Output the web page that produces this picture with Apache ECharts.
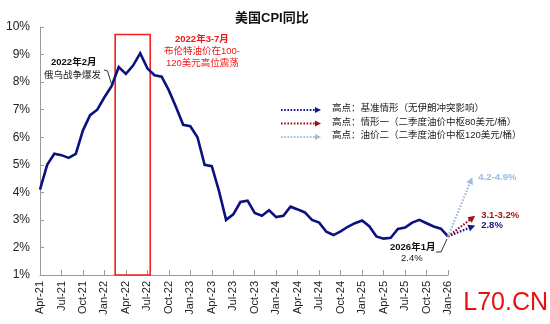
<!DOCTYPE html>
<html>
<head>
<meta charset="utf-8">
<script src="https://cdn.jsdelivr.net/npm/echarts@6/dist/echarts.min.js"></script>
<style>
  html, body { margin: 0; padding: 0; background: #fff; }
  #chart { width: 550px; height: 324px; }
</style>
</head>
<body>
<div id="chart"></div>
<script>
// Monthly labels, Apr-21 .. Jan-26
const months = [
  'Apr-21','May-21','Jun-21','Jul-21','Aug-21','Sep-21','Oct-21','Nov-21','Dec-21',
  'Jan-22','Feb-22','Mar-22','Apr-22','May-22','Jun-22','Jul-22','Aug-22','Sep-22','Oct-22','Nov-22','Dec-22',
  'Jan-23','Feb-23','Mar-23','Apr-23','May-23','Jun-23','Jul-23','Aug-23','Sep-23','Oct-23','Nov-23','Dec-23',
  'Jan-24','Feb-24','Mar-24','Apr-24','May-24','Jun-24','Jul-24','Aug-24','Sep-24','Oct-24','Nov-24','Dec-24',
  'Jan-25','Feb-25','Mar-25','Apr-25','May-25','Jun-25','Jul-25','Aug-25','Sep-25','Oct-25','Nov-25','Dec-25',
  'Jan-26'
];

// US CPI year-over-year, %
const cpi = [
  4.1, 5.0, 5.4, 5.35, 5.25, 5.4, 6.25, 6.8, 7.0,
  7.45, 7.85, 8.55, 8.3, 8.6, 9.05, 8.5, 8.25, 8.2, 7.7, 7.1, 6.45,
  6.4, 6.0, 5.0, 4.95, 4.05, 3.0, 3.2, 3.65, 3.7, 3.25, 3.15, 3.35,
  3.1, 3.15, 3.48, 3.38, 3.27, 3.0, 2.9, 2.57, 2.45, 2.58, 2.75, 2.88,
  2.98, 2.77, 2.4, 2.32, 2.35, 2.67, 2.72, 2.9, 3.0, 2.88, 2.76, 2.68,
  2.4
];

// Scenario peaks after Jan-26 (month index of the peak, peak value)
const scenarioNames = ['高点：基准情形（无伊朗冲突影响）', '高点：情形一（二季度油价中枢80美元/桶）', '高点：油价二（二季度油价中枢120美元/桶）'];
const scenarioLabels = ['2.8%', '3.1-3.2%', '4.2-4.9%'];
const scenarioPeakMonth = [60.8, 60.8, 60.4];
const scenarioPeak = [2.8, 3.15, 4.55];
const scenarioColors = ['#15168a', '#9b1010', '#9cbbe2'];

// Brent 100-120 window, Mar-22 .. Jul-22
const brentWindow = [10.5, 15.4];

const lastIdx = cpi.length - 1;
const FONT = '"Liberation Sans", Arial, "Noto Sans CJK SC", sans-serif';
const NOTE = '9.5px ' + FONT;
const NOTE_B = 'bold 9.5px ' + FONT;

const chart = echarts.init(document.getElementById('chart'), null, { renderer: 'canvas' });

function arrowShapes(p0, p1, color, headLen, headW, lineWidth) {
  const dx = p1[0] - p0[0], dy = p1[1] - p0[1];
  const len = Math.sqrt(dx * dx + dy * dy);
  const ux = dx / len, uy = dy / len;
  const bx = p1[0] - ux * headLen, by = p1[1] - uy * headLen;
  const nx = -uy, ny = ux;
  return [
    {
      type: 'line',
      shape: { x1: p0[0], y1: p0[1], x2: bx, y2: by },
      style: { stroke: color, lineWidth: lineWidth, lineDash: [1.6, 1.6] }
    },
    {
      type: 'polygon',
      shape: { points: [[p1[0], p1[1]], [bx + nx * headW, by + ny * headW], [bx - nx * headW, by - ny * headW]] },
      style: { fill: color }
    }
  ];
}

// Legend: dotted arrows with their captions
const legendGraphics = [];
scenarioNames.forEach(function (name, i) {
  const y = 110 + i * 13.5;
  arrowShapes([281, y], [321, y], scenarioColors[i], 6, 3, 2).forEach(function (s) { legendGraphics.push(s); });
  legendGraphics.push({
    type: 'text', left: 332, top: y - 6,
    style: { text: name, font: NOTE, fill: '#222' }
  });
});

const option = {
  animation: false,
  backgroundColor: '#fff',
  title: {
    text: '美国CPI同比',
    left: 230, top: 7,
    textStyle: { fontFamily: FONT, fontSize: 13, fontWeight: 'bold', color: '#111' }
  },
  grid: { left: 40, right: 102, top: 27, bottom: 49 },
  xAxis: {
    type: 'value',
    min: 0, max: lastIdx, interval: 3,
    axisLine: { show: true, lineStyle: { color: '#9a9a9a', width: 1 } },
    axisTick: { show: true, inside: true, length: 5, lineStyle: { color: '#9a9a9a' } },
    splitLine: { show: false },
    axisLabel: {
      rotate: 90, margin: 6, fontSize: 11, color: '#222', fontFamily: FONT,
      formatter: function (v) { return months[v] || ''; }
    }
  },
  yAxis: {
    type: 'value',
    min: 1, max: 10, interval: 1,
    axisLine: { show: true, lineStyle: { color: '#9a9a9a', width: 1 } },
    axisTick: { show: true, inside: true, length: 4, lineStyle: { color: '#9a9a9a' } },
    splitLine: { show: false },
    axisLabel: { formatter: '{value}%', fontSize: 12, color: '#222', fontFamily: FONT, margin: 10 }
  },
  series: [
    {
      type: 'line',
      data: cpi.map(function (v, i) { return [i, v]; }),
      symbol: 'none',
      lineStyle: { color: '#0b1280', width: 2.6, join: 'miter' },
      z: 3,
      markArea: {
        silent: true,
        itemStyle: { color: 'rgba(0,0,0,0)', borderColor: '#f02020', borderWidth: 1.6 },
        data: [[{ coord: [brentWindow[0], 9.73] }, { coord: [brentWindow[1], 1] }]]
      }
    },
    {
      type: 'custom',
      clip: false,
      z: 4,
      data: scenarioPeak.map(function (v, i) { return [scenarioPeakMonth[i], v, i]; }),
      renderItem: function (params, api) {
        const i = api.value(2);
        const p0 = api.coord([lastIdx, cpi[lastIdx]]);
        const p1 = api.coord([api.value(0), api.value(1)]);
        const children = arrowShapes(p0, p1, scenarioColors[i], 7, 3.5, 2.2);
        children.push({
          type: 'text',
          x: p1[0] + 6, y: p1[1],
          style: {
            text: scenarioLabels[i], fill: scenarioColors[i],
            font: 'bold 9.5px ' + FONT, verticalAlign: 'middle', align: 'left'
          }
        });
        return { type: 'group', children: children };
      }
    }
  ],
  graphic: [
    // Feb 2022 note
    { type: 'text', left: 51, top: 58, style: { text: '2022年2月', font: NOTE_B, fill: '#111' } },
    { type: 'text', left: 44, top: 71, style: { text: '俄乌战争爆发', font: NOTE, fill: '#222' } },
    { type: 'polyline', shape: { points: [[104, 70], [107.5, 71], [111.5, 84]] }, style: { stroke: '#333', lineWidth: 1, fill: null } },
    // Brent window note
    { type: 'text', left: 175, top: 35, style: { text: '2022年3-7月', font: NOTE_B, fill: '#f01818' } },
    { type: 'text', left: 164, top: 47, style: { text: '布伦特油价在100-', font: NOTE, fill: '#f01818' } },
    { type: 'text', left: 166, top: 59, style: { text: '120美元高位震荡', font: NOTE, fill: '#f01818' } },
    // Jan 2026 note
    { type: 'text', left: 390, top: 243, style: { text: '2026年1月', font: NOTE_B, fill: '#111' } },
    { type: 'text', left: 401, top: 254, style: { text: '2.4%', font: NOTE, fill: '#222' } },
    { type: 'polyline', shape: { points: [[436, 252], [441, 252], [447, 239]] }, style: { stroke: '#333', lineWidth: 1, fill: null } },
    // Site mark
    { type: 'text', right: 2, top: 291, style: { text: 'L70.CN', font: '25px ' + FONT, fill: '#e81010' } }
  ].concat(legendGraphics)
};

chart.setOption(option);
</script>
</body>
</html>
